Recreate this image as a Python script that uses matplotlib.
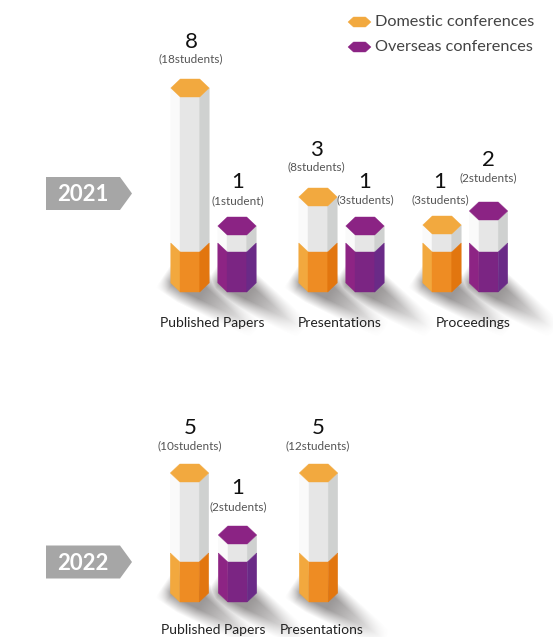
import matplotlib
matplotlib.use("Agg")
import matplotlib.pyplot as plt
import numpy as np
from matplotlib.patches import Polygon

plt.rcParams['font.family'] = ['Lato', 'DejaVu Sans']

# values
years = ["2021", "2022"]
categories_2021 = ["Published Papers", "Presentations", "Proceedings"]
categories_2022 = ["Published Papers", "Presentations"]

series_2021 = ["D", "O", "D", "O", "D", "O"]
counts_2021 = [8, 1, 3, 1, 1, 2]
students_2021 = ["(18students)", "(1student)", "(8students)", "(3students)", "(3students)", "(2students)"]
heights_2021 = [204, 66, 95, 66, 67, 81]

series_2022 = ["D", "O", "D"]
counts_2022 = [5, 1, 5]
students_2022 = ["(10students)", "(2students)", "(12students)"]
heights_2022 = [129, 67, 129]

# layout in pixels
W, H = 553, 637
centers_2021 = [190, 237, 318, 365, 442, 488.5]
centers_2022 = [189.5, 237.5, 318.5]
cat_x_2021 = [212.5, 340, 473]
cat_x_2022 = [213, 322]
label_x_2021 = [191, 238, 316, 365, 440, 488]
label_x_2022 = [190, 238, 318]
count_y_2021 = [41.5, 181.5, 149.5, 181.5, 181.5, 160.5]
count_y_2022 = [428.5, 488.5, 428.5]
student_y_2021 = [59, 201, 167, 200, 200, 178]
student_y_2022 = [446, 507, 446]
HALF_W = 19.2
INNER = 9.7
HALF_H = 9
BAND = 40

colors = {
    "D": dict(top="#F2A93F", left="#F2A83E", front="#EE8C23", right="#E2760F"),
    "O": dict(top="#8B2384", left="#8D2484", front="#7B2583", right="#6A2A87"),
}
pale = dict(left="#FAFAFA", front="#E6E6E6", right="#CFD1D0")

fig = plt.figure(figsize=(W / 100, H / 100), dpi=100)
ax = fig.add_axes([0, 0, 1, 1])
ax.set_xlim(0, W)
ax.set_ylim(H, 0)
ax.axis("off")

grid_x, grid_y = np.meshgrid(np.arange(W) + 0.5, np.arange(H) + 0.5)


def poly(pts, color, z=3):
    ax.add_patch(Polygon(pts, closed=True, facecolor=color, edgecolor=color, linewidth=0.3, zorder=z))


def shadow_alpha(x, base):
    # soft streak going down to the right from the foot of the bar
    ux, uy = 0.83, 0.56
    dx = grid_x - (x - 1)
    dy = grid_y - (base - 8)
    along = dx * ux + dy * uy
    across = -dx * uy + dy * ux
    half = 22 - 0.14 * np.clip(along, 0, None)
    side = np.clip((half - np.abs(across)) / 13, 0, 1)
    fade = np.clip((82 - along) / 66, 0, 1)
    start = np.clip((along + 26) / 12, 0, 1)
    return 0.7 * side * fade * start


def bar(x, base, h, s):
    top = base - h
    c = colors[s]
    band = base - BAND
    # pale upper part
    poly([(x - HALF_W, top), (x - INNER, top + HALF_H), (x - INNER, band), (x - HALF_W, band - HALF_H)], pale["left"])
    poly([(x - INNER, top + HALF_H), (x + INNER, top + HALF_H), (x + INNER, band), (x - INNER, band)], pale["front"])
    poly([(x + HALF_W, top), (x + INNER, top + HALF_H), (x + INNER, band), (x + HALF_W, band - HALF_H)], pale["right"])
    # coloured lower part
    poly([(x - HALF_W, band - HALF_H), (x - INNER, band), (x - INNER, base), (x - HALF_W, base - HALF_H)], c["left"])
    poly([(x - INNER, band), (x + INNER, band), (x + INNER, base), (x - INNER, base)], c["front"])
    poly([(x + HALF_W, band - HALF_H), (x + INNER, band), (x + INNER, base), (x + HALF_W, base - HALF_H)], c["right"])
    # lid
    poly([(x - HALF_W, top), (x - INNER, top - HALF_H), (x + INNER, top - HALF_H),
          (x + HALF_W, top), (x + INNER, top + HALF_H), (x - INNER, top + HALF_H)], c["top"])


def panel(year, cats, cat_x, cat_y, series, counts, students, heights, centers, label_x, count_y, student_y, base, badge_y):
    for x, h, s in zip(centers, heights, series):
        bar(x, base, h, s)
    for lx, cy, sy, n, st in zip(label_x, count_y, student_y, counts, students):
        ax.text(lx, cy, str(n), ha="center", va="center", fontsize=16, color="#111111", zorder=6)
        ax.text(lx, sy, st, ha="center", va="center", fontsize=8.5, color="#555555", zorder=6)
    for cx, name in zip(cat_x, cats):
        ax.text(cx, cat_y, name, ha="center", va="center", fontsize=10, color="#222222", zorder=6)
    # year tag
    ax.add_patch(Polygon([(46, badge_y - 16.5), (120, badge_y - 16.5), (132, badge_y),
                          (120, badge_y + 16.5), (46, badge_y + 16.5)],
                         closed=True, facecolor="#A6A6A6", edgecolor="none", zorder=2))
    ax.text(82.5, badge_y + 1, year, ha="center", va="center", fontsize=16, fontweight="bold", color="white", zorder=6)


# all shadows go in one soft layer under the bars
shade = np.zeros((H, W))
for x in centers_2021:
    shade = np.maximum(shade, shadow_alpha(x, 292))
for x in centers_2022:
    shade = np.maximum(shade, shadow_alpha(x, 602))
rgba = np.zeros((H, W, 4))
rgba[..., :3] = np.array([0x70, 0x6c, 0x6c]) / 255
rgba[..., 3] = shade
ax.imshow(rgba, extent=(0, W, H, 0), interpolation="bilinear", aspect="auto", zorder=1)
ax.set_xlim(0, W)
ax.set_ylim(H, 0)

panel(years[0], categories_2021, cat_x_2021, 323, series_2021, counts_2021, students_2021, heights_2021,
      centers_2021, label_x_2021, count_y_2021, student_y_2021, 292, 193.5)
panel(years[1], categories_2022, cat_x_2022, 629.5, series_2022, counts_2022, students_2022, heights_2022,
      centers_2022, label_x_2022, count_y_2022, student_y_2022, 602, 562)

# legend
for y, ty, s, name in [(22, 21.5, "D", "Domestic conferences"), (47, 47, "O", "Overseas conferences")]:
    poly([(348, y), (353.5, y - 5), (365.5, y - 5), (371, y), (365.5, y + 5), (353.5, y + 5)], colors[s]["top"])
    ax.text(375, ty, name, ha="left", va="center", fontsize=11.7, color="#444444", zorder=6)

fig.savefig("out.png", dpi=100)
